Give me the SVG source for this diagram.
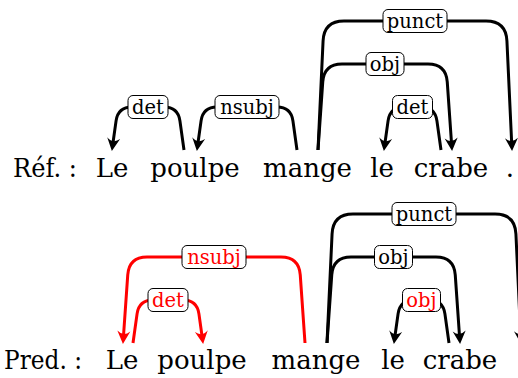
<svg xmlns="http://www.w3.org/2000/svg" width="518" height="378" viewBox="0 0 518 378">
<style>
.w{font-family:"DejaVu Serif","Liberation Serif",serif;font-size:26px;fill:#000;text-anchor:middle}
.h{font-family:"DejaVu Serif","Liberation Serif",serif;font-size:26px;fill:#000}
.e{fill:none;stroke:#000;stroke-width:3;stroke-linejoin:round}
.er{fill:none;stroke:#f00;stroke-width:3;stroke-linejoin:round}
.b{fill:#fff;stroke:#000;stroke-width:1}
.l{font-family:"DejaVu Serif","Liberation Serif",serif;font-size:19.5px;fill:#000;text-anchor:middle}
.lr{font-family:"DejaVu Serif","Liberation Serif",serif;font-size:19.5px;fill:#f00;text-anchor:middle}
</style>
<defs>
<marker id="ah" markerWidth="16" markerHeight="16" refX="7" refY="8" orient="auto" markerUnits="userSpaceOnUse" overflow="visible">
<path d="M13,8 L0,1.5 Q6,8 0,14.5 Z" fill="#000"/>
</marker>
<marker id="ahr" markerWidth="16" markerHeight="16" refX="7" refY="8" orient="auto" markerUnits="userSpaceOnUse" overflow="visible">
<path d="M13,8 L0,1.5 Q6,8 0,14.5 Z" fill="#f00"/>
</marker>
</defs>
<g id="connectors">
<path class="e" marker-end="url(#ah)" d="M184,150 L179.93,120.86 Q178,107 164,107 L132,107 Q118,107 116.07,120.86 L112.69,145.05"/>
<path class="e" marker-end="url(#ah)" d="M297,150 L292.93,120.86 Q291,107 277,107 L217,107 Q203,107 201.07,120.86 L197.69,145.05"/>
<path class="e" marker-end="url(#ah)" d="M441,150 L436.93,120.86 Q435,107 421,107 L404,107 Q390,107 388.07,120.86 L384.69,145.05"/>
<path class="e" marker-end="url(#ah)" d="M318,150 L322.75,81.96 Q324,64 342,64 L428,64 Q446,64 447.25,81.96 L451.65,145.01"/>
<path class="e" marker-end="url(#ah)" d="M318,150 L323.07,40.98 Q324,21 344,21 L486,21 Q506,21 506.93,40.98 L511.77,145.01"/>
<path class="er" marker-end="url(#ahr)" d="M133,343 L137.07,313.86 Q139,300 153,300 L183,300 Q197,300 198.93,313.86 L202.31,338.05"/>
<path class="er" marker-end="url(#ahr)" d="M305,343 L300.25,274.96 Q299,257 281,257 L147,257 Q129,257 127.75,274.96 L123.35,338.01"/>
<path class="e" marker-end="url(#ah)" d="M327,343 L331.75,274.96 Q333,257 351,257 L436,257 Q454,257 455.25,274.96 L459.65,338.01"/>
<path class="e" marker-end="url(#ah)" d="M327,343 L332.07,233.98 Q333,214 353,214 L495,214 Q515,214 515.93,233.98 L520.77,338.01"/>
<path class="e" marker-end="url(#ah)" d="M449,343 L444.93,313.86 Q443,300 429,300 L414,300 Q400,300 398.07,313.86 L394.69,338.05"/>
</g>
<g id="ref-row">
<text class="h" x="13" y="177" textLength="64" lengthAdjust="spacingAndGlyphs">Réf. :</text>
<text class="w" x="112" y="177">Le</text>
<text class="w" x="195" y="177">poulpe</text>
<text class="w" x="307.5" y="177">mange</text>
<text class="w" x="382" y="177">le</text>
<text class="w" x="451" y="177">crabe</text>
<text class="w" x="510" y="177">.</text>
</g>
<g id="pred-row">
<text class="h" x="4" y="369" textLength="78" lengthAdjust="spacingAndGlyphs">Pred. :</text>
<text class="w" x="122" y="369">Le</text>
<text class="w" x="202" y="369">poulpe</text>
<text class="w" x="316" y="369">mange</text>
<text class="w" x="393" y="369">le</text>
<text class="w" x="460" y="369">crabe</text>
</g>
<g id="label-ref-det1"><rect class="b" x="128" y="95.5" width="40" height="23" rx="5"/><text class="l" x="148" y="113.5">det</text></g>
<g id="label-ref-nsubj"><rect class="b" x="215" y="95.5" width="64" height="23" rx="5"/><text class="l" x="247" y="113.5">nsubj</text></g>
<g id="label-ref-det2"><rect class="b" x="392.5" y="95.5" width="40" height="23" rx="5"/><text class="l" x="412.5" y="113.5">det</text></g>
<g id="label-ref-obj"><rect class="b" x="366" y="52.5" width="38" height="23" rx="5"/><text class="l" x="385" y="70.5">obj</text></g>
<g id="label-ref-punct"><rect class="b" x="383" y="9.5" width="64" height="23" rx="5"/><text class="l" x="415" y="27.5">punct</text></g>
<g id="label-pred-det"><rect class="b" x="148" y="288.5" width="40" height="23" rx="5"/><text class="lr" x="168" y="306.5">det</text></g>
<g id="label-pred-nsubj"><rect class="b" x="182" y="245.5" width="64" height="23" rx="5"/><text class="lr" x="214" y="263.5">nsubj</text></g>
<g id="label-pred-obj1"><rect class="b" x="374.5" y="245.5" width="38" height="23" rx="5"/><text class="l" x="393.5" y="263.5">obj</text></g>
<g id="label-pred-punct"><rect class="b" x="392" y="202.5" width="64" height="23" rx="5"/><text class="l" x="424" y="220.5">punct</text></g>
<g id="label-pred-obj2"><rect class="b" x="402.5" y="288.5" width="38" height="23" rx="5"/><text class="lr" x="421.5" y="306.5">obj</text></g>
</svg>
